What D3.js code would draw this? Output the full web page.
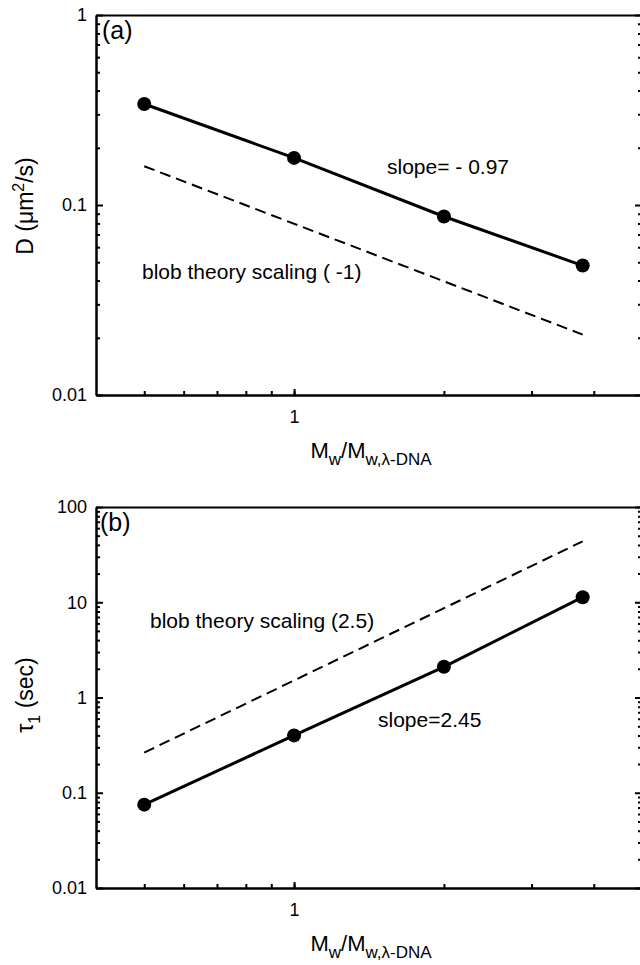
<!DOCTYPE html>
<html lang="en">
<head>
<meta charset="UTF-8" />
<title>D and tau1 vs Mw</title>
<style>
	body { margin: 0; background: #fff; }
	svg { font-family: "Liberation Sans", Arial, sans-serif; }
	.axis path, .axis line { stroke: #000; stroke-width: 2; }
	.axis text { font-size: 18px; fill: #000; }
	.note { font-size: 21px; fill: #000; }
	.tag { font-size: 25px; fill: #000; }
	.lab { font-size: 23px; fill: #000; }
	.fit { fill: none; stroke: #000; stroke-width: 3; }
	.blob { fill: none; stroke: #000; stroke-width: 2; stroke-dasharray: 11,6; }
	.dot { fill: #000; }
</style>
</head>
<body>
<script src="https://cdn.jsdelivr.net/npm/d3@7"></script>
<script>
// data
var mwRatio = [0.5, 1, 2, 3.8];
var diffusion = [0.34, 0.177, 0.087, 0.048];      // D (um^2/s)
var relaxTime = [0.075, 0.40, 2.1, 11.3];         // tau_1 (sec)

// blob theory scaling lines (end points)
var blobX = [0.5, 3.8];
var blobD = [0.16, 0.0208];     // slope -1
var blobTau = [0.264, 43.6];    // slope 2.5

var xTicks = [0.5, 0.6, 0.7, 0.8, 0.9, 1, 2, 3, 4];
var xLabels = [1];

var width = 640, height = 965;
var left = 96, right = 642;

var svg = d3.select("body").append("svg")
	.attr("width", width).attr("height", height);

var x = d3.scaleLog().domain([0.4, 5]).range([left, right]);

function minors(lo, hi) {
	var out = [];
	for (var e = Math.log10(lo); e < Math.log10(hi); e++) {
		for (var m = 2; m <= 9; m++) out.push(m * Math.pow(10, e));
	}
	return out;
}

function panel(opt) {
	var y = d3.scaleLog().domain(opt.ydomain).range([opt.bottom, opt.top]);
	var g = svg.append("g");
	var majors = opt.ymajors;

	// left axis
	g.append("g").attr("class", "axis").attr("transform", "translate(" + left + ",0)")
		.call(d3.axisLeft(y).tickValues(majors).tickFormat(d3.format("~g"))
			.tickSizeInner(-7).tickSizeOuter(0).tickPadding(9));
	g.append("g").attr("class", "axis").attr("transform", "translate(" + left + ",0)")
		.call(d3.axisLeft(y).tickValues(minors(opt.ydomain[0], opt.ydomain[1]))
			.tickFormat("").tickSizeInner(-4).tickSizeOuter(0));

	// right axis, mostly outside the picture
	g.append("g").attr("class", "axis").attr("transform", "translate(" + right + ",0)")
		.call(d3.axisRight(y).tickValues(majors).tickFormat("").tickSizeInner(-7).tickSizeOuter(0));
	g.append("g").attr("class", "axis").attr("transform", "translate(" + right + ",0)")
		.call(d3.axisRight(y).tickValues(minors(opt.ydomain[0], opt.ydomain[1]))
			.tickFormat("").tickSizeInner(-4).tickSizeOuter(0));

	// bottom axis
	g.append("g").attr("class", "axis").attr("transform", "translate(0," + opt.bottom + ")")
		.call(d3.axisBottom(x).tickValues(xTicks).tickSizeInner(-4).tickSizeOuter(0)
			.tickPadding(15)
			.tickFormat(function(d) { return xLabels.indexOf(d) >= 0 ? d : ""; }));
	g.append("g").attr("class", "axis").attr("transform", "translate(0," + opt.bottom + ")")
		.call(d3.axisBottom(x).tickValues(xLabels).tickFormat("").tickSizeInner(-6).tickSizeOuter(0));

	// top frame
	g.append("g").attr("class", "axis").attr("transform", "translate(0," + opt.top + ")")
		.call(d3.axisTop(x).tickValues([]).tickSizeOuter(0));

	// theory line
	var line = d3.line().x(function(d) { return x(d[0]); }).y(function(d) { return y(d[1]); });
	g.append("path").attr("class", "blob").attr("d", line(d3.zip(blobX, opt.blob)));

	// data + fit
	var pts = d3.zip(mwRatio, opt.values);
	g.append("path").attr("class", "fit").attr("d", line(pts));
	g.selectAll("circle.dot").data(pts).enter().append("circle")
		.attr("class", "dot").attr("r", 7)
		.attr("cx", function(d) { return x(d[0]); })
		.attr("cy", function(d) { return y(d[1]); });

	// panel tag
	g.append("text").attr("class", "tag").attr("x", opt.tagX).attr("y", opt.top + 24)
		.text(opt.tag);

	// annotations
	opt.notes.forEach(function(n) {
		g.append("text").attr("class", "note").attr("x", n.x).attr("y", n.y).text(n.text);
	});

	// y label
	var yl = g.append("text").attr("class", "lab")
		.attr("transform", "translate(33," + opt.ylabelY + ") rotate(-90)")
		.attr("text-anchor", "middle");
	opt.ylabel(yl);

	// x label
	var xl = g.append("text").attr("class", "lab").attr("x", 371).attr("y", opt.bottom + 63)
		.attr("text-anchor", "middle").style("font-size", "22px");
	xl.append("tspan").text("M");
	xl.append("tspan").attr("dy", 7).style("font-size", "17px").text("w");
	xl.append("tspan").attr("dy", -7).text("/M");
	xl.append("tspan").attr("dy", 7).style("font-size", "17px").text("w,\u03bb-DNA");
}

panel({
	top: 15, bottom: 395, ydomain: [0.01, 1], ymajors: [0.01, 0.1, 1],
	values: diffusion, blob: blobD, tag: "(a)", tagX: 102, ylabelY: 206,
	notes: [
		{ x: 387, y: 174, text: "slope= - 0.97" },
		{ x: 142, y: 279, text: "blob theory scaling ( -1)" }
	],
	ylabel: function(t) {
		t.append("tspan").text("D (\u03bcm");
		t.append("tspan").attr("dy", -9).style("font-size", "16px").text("2");
		t.append("tspan").attr("dy", 9).text("/s)");
	}
});

panel({
	top: 507, bottom: 888, ydomain: [0.01, 100], ymajors: [0.01, 0.1, 1, 10, 100],
	values: relaxTime, blob: blobTau, tag: "(b)", tagX: 100, ylabelY: 695,
	notes: [
		{ x: 150, y: 628, text: "blob theory scaling (2.5)" },
		{ x: 378, y: 727, text: "slope=2.45" }
	],
	ylabel: function(t) {
		t.append("tspan").text("\u03c4");
		t.append("tspan").attr("dy", 7).style("font-size", "16px").text("1");
		t.append("tspan").attr("dy", -7).text(" (sec)");
	}
});
</script>
</body>
</html>
